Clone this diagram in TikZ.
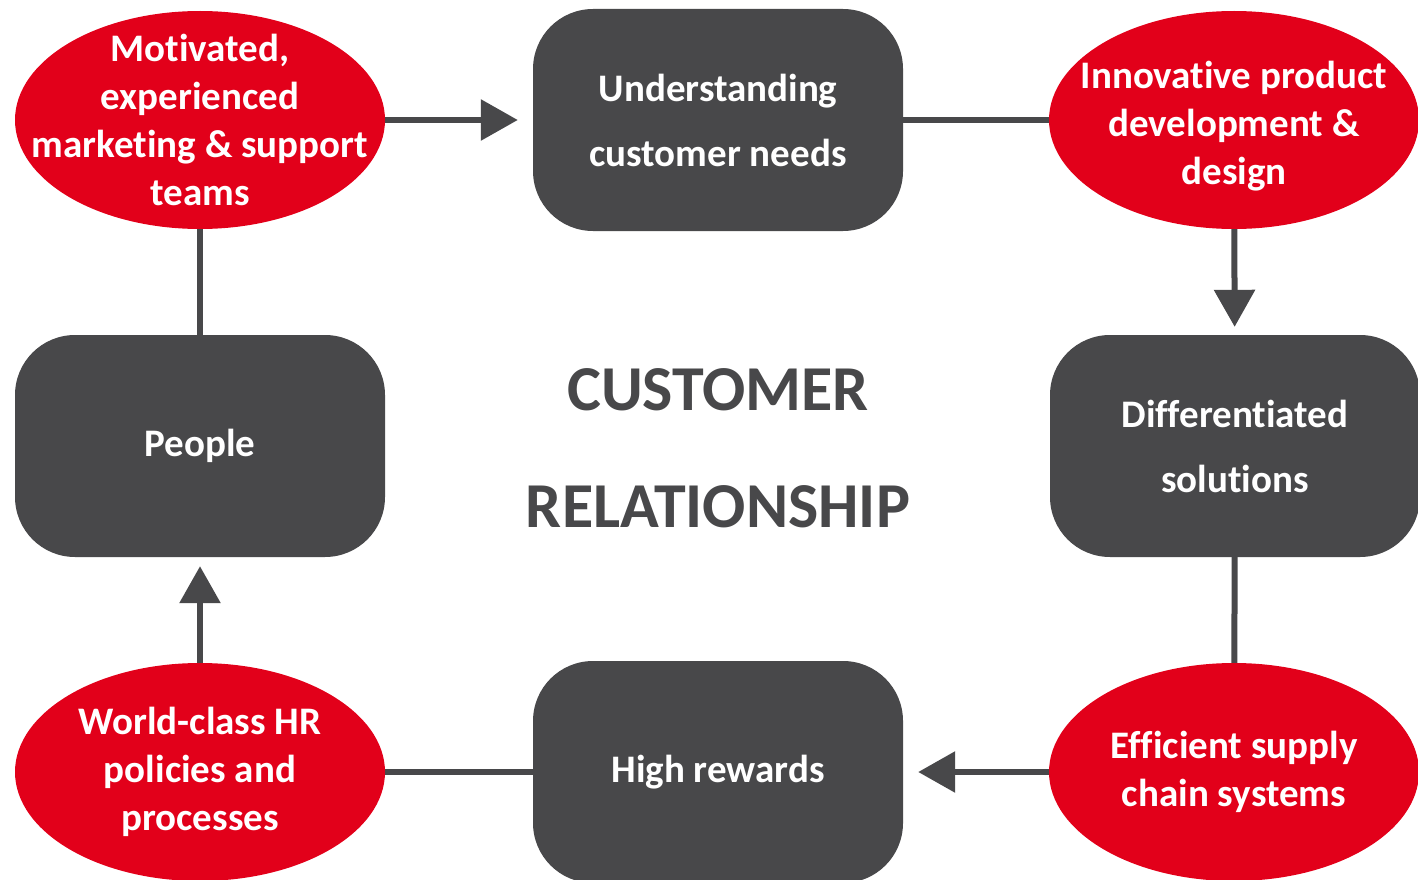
\documentclass[tikz,border=0pt]{standalone}
\usepackage{fontspec}
\setmainfont{Carlito}[Ligatures=NoCommon]
\usepackage{tikz}
\usetikzlibrary{arrows.meta}
\usetikzlibrary{positioning}
\usetikzlibrary{shapes.geometric}
\definecolor{crimson}{HTML}{E2001A}
\definecolor{slate}{HTML}{48484A}

\begin{document}
\begin{tikzpicture}[x=1pt, y=-1pt, >={Triangle[length=37pt 0 0, width=40pt 0 0]},
    blob/.style={ellipse, fill=crimson, minimum width=370pt, minimum height=218pt,
      inner xsep=-45pt, inner ysep=-35pt, align=center, text=white,
      font=\fontsize{39}{48}\selectfont\bfseries},
    slab/.style={rectangle, rounded corners=60pt, fill=slate, minimum width=370pt,
      minimum height=222pt, align=center, text=white, font=\fontsize{39}{65}\selectfont\bfseries},
    link/.style={draw=slate, line width=6pt}]
        \useasboundingbox (0,0) rectangle (1418,880);

        % top row
        \node[blob] (motiv) at (200,120) {Motivated,\\experienced\\marketing \& support\\teams};
        \node[slab] (needs) at (718,120) {Understanding\\customer needs};
        \node[blob] (innov) at (1234,120) {\rule{0pt}{40pt}Innovative product\\development \&\\design};

        % middle row
        \node[slab] (people) at (200,446) {People};
        \node[slab] (diff) at (1235,446) {Differentiated\\solutions};
        \node[text=slate, align=center, font=\fontsize{64}{117}\selectfont\bfseries] (title) at (718,448) {CUSTOMER\\RELATIONSHIP};

        % bottom row
        \node[blob] (hr) at (200,772) {World-class HR\\policies and\\processes};
        \node[slab] (reward) at (718,772) {High rewards};
        \node[blob] (supply) at (1234,772) {Efficient supply\\chain systems};

        \draw[link,->,shorten >=15pt] (motiv) -- (needs);
        \draw[link] (needs) -- (innov);
        \draw[link,->,shorten >=8pt] (innov) -- (diff);
        \draw[link] (diff) -- (supply);
        \draw[link,->,shorten >=15pt] (supply) -- (reward);
        \draw[link] (reward) -- (hr);
        \draw[link,->,shorten >=9pt] (hr) -- (people);
        \draw[link] (people) -- (motiv);
      \end{tikzpicture}
\end{document}
